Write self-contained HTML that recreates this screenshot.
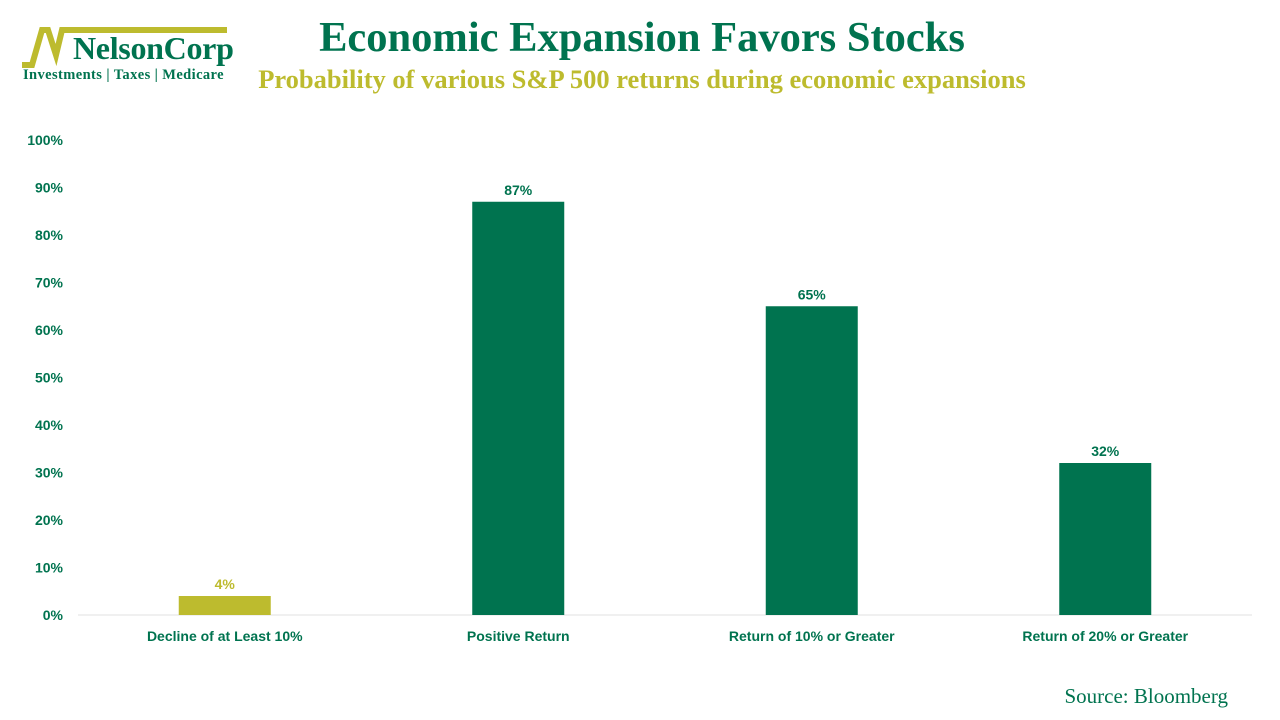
<!DOCTYPE html>
<html><head><meta charset="utf-8"><style>
body{margin:0;width:1280px;height:720px;background:#fff;overflow:hidden;position:relative;font-family:"Liberation Sans",sans-serif}
.t{position:absolute;left:0;width:1280px;text-align:center;font-family:"Liberation Serif",serif;font-weight:bold}
</style></head><body>
<div style="position:absolute;left:20px;top:25px;width:210px;height:60px">
<svg width="210" height="60"><polyline points="2,40 12,40 22,5 28,5 36,30 42,5 207,5" fill="none" stroke="#bdbb2e" stroke-width="6"/></svg>
<div style="position:absolute;left:53px;top:5px;font-family:'Liberation Serif',serif;font-weight:bold;font-size:32px;color:#00734f;letter-spacing:-0.3px">NelsonCorp</div>
<div style="position:absolute;left:3px;top:42px;font-family:'Liberation Serif',serif;font-weight:bold;font-size:14.5px;color:#00734f;white-space:nowrap;letter-spacing:0.4px">Investments | Taxes | Medicare</div>
</div>
<div class="t" style="top:13px;font-size:42.5px;color:#00734f;padding-left:2px">Economic Expansion Favors Stocks</div>
<div class="t" style="top:64px;font-size:26.5px;color:#bdbb2e;padding-left:2px">Probability of various S&amp;P 500 returns during economic expansions</div>
<div style="position:absolute;right:52px;top:684px;font-family:'Liberation Serif',serif;font-size:21px;color:#00734f">Source: Bloomberg</div>
<svg id="c" width="1280" height="720" style="position:absolute;left:0;top:0"></svg>
<script>
const categories=["Decline of at Least 10%","Positive Return","Return of 10% or Greater","Return of 20% or Greater"];
const values=[4,87,65,32];
const colors=["#bdbb2e","#00734f","#00734f","#00734f"];
const ticks=[0,10,20,30,40,50,60,70,80,90,100];
const svg=document.getElementById('c');
const NS="http://www.w3.org/2000/svg";
const x0=78,x1=1252,y0=615,y1=140;
const y=v=>y0-(v/100)*(y0-y1);
const band=(x1-x0)/categories.length;
const xc=i=>x0+band*(i+0.5);
function mk(t,a){const e=document.createElementNS(NS,t);for(const k in a)e.setAttribute(k,a[k]);svg.appendChild(e);return e;}
const ax=mk('line',{x1:x0,x2:x1,y1:y0,y2:y0,stroke:'#e0e0e0','stroke-width':1});


ticks.forEach(v=>{const t=mk('text',{x:63,y:y(v)+5,'text-anchor':'end','font-size':14,'font-weight':'bold',fill:'#00734f','font-family':'Liberation Sans,sans-serif'});t.textContent=v+'%';

});
values.forEach((v,i)=>{const w=92;
const r=mk('rect',{x:xc(i)-w/2,y:y(v),width:w,height:y0-y(v),fill:colors[i]});


const l=mk('text',{x:xc(i),y:y(v)-7,'text-anchor':'middle','font-size':14,'font-weight':'bold',fill:colors[i],'font-family':'Liberation Sans,sans-serif'});l.textContent=v+'%';


const c=mk('text',{x:xc(i),y:641,'text-anchor':'middle','font-size':14,'font-weight':'bold',fill:'#00734f','font-family':'Liberation Sans,sans-serif'});c.textContent=categories[i];

});
</script>
</body></html>
